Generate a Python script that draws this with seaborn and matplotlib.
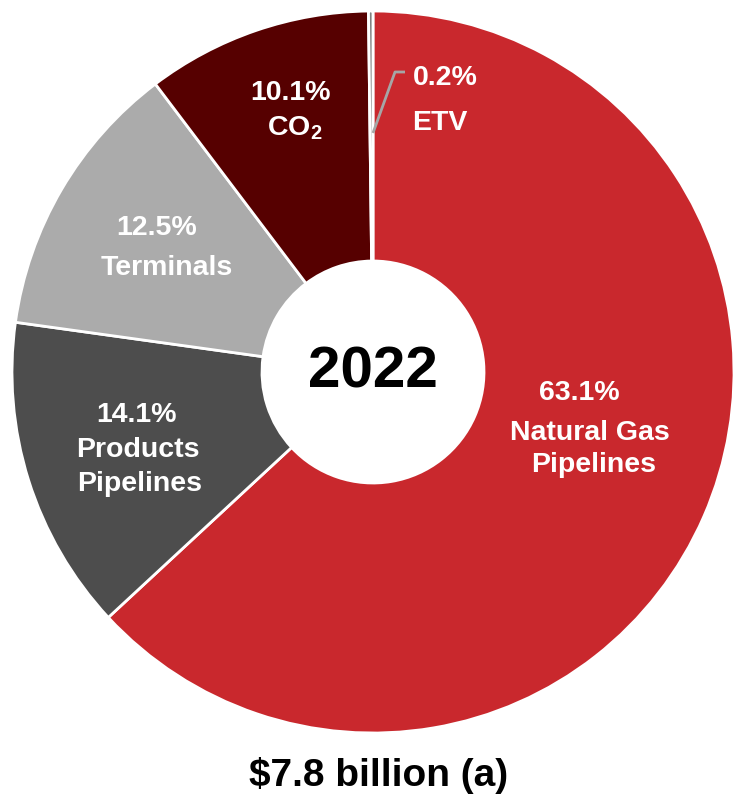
import matplotlib
matplotlib.use("Agg")
import matplotlib.pyplot as plt
import seaborn as sns

sns.set_theme(style="white")
plt.rcParams['font.family'] = ['Liberation Sans', 'DejaVu Sans']
plt.rcParams['mathtext.fontset'] = 'custom'
plt.rcParams['mathtext.rm'] = 'Liberation Sans:bold'
plt.rcParams['mathtext.it'] = 'Liberation Sans:bold'
plt.rcParams['mathtext.bf'] = 'Liberation Sans:bold'

# ---- data ----
segments = ["Natural Gas Pipelines", "Products Pipelines", "Terminals", "CO2", "ETV"]
shares = [63.1, 14.1, 12.5, 10.1, 0.2]
pct_labels = ["63.1%", "14.1%", "12.5%", "10.1%", "0.2%"]
name_labels = [["Natural Gas", "Pipelines"], ["Products", "Pipelines"], ["Terminals"],
               ["CO$_2$"], ["ETV"]]
colors = ["#C9282D", "#4D4D4D", "#ABABAB", "#560000", "#808080"]
year_label = "2022"
total_label = "$7.8 billion (a)"

# ---- layout (pixel positions of label lines) ----
pct_pos = [(579, 390), (137, 412), (157, 225), (291, 90), (445, 75)]
name_pos = [[(590, 430), (594, 462)], [(138, 447), (140, 481)], [(167, 265)],
            [(295, 125)], [(440, 120)]]

W, H = 736, 798
fig = plt.figure(figsize=(W / 100, H / 100), dpi=100)
cx, cy, R = 373, 372, 361
ax = fig.add_axes([(cx - R) / W, 1 - (cy + R) / H, 2 * R / W, 2 * R / H])
ax.pie(shares, colors=colors, startangle=90, counterclock=False, radius=1,
       wedgeprops=dict(width=1 - 111 / 361, edgecolor="white", linewidth=2))
ax.set_xlim(-1, 1)
ax.set_ylim(-1, 1)
ax.axis("off")

def p2d(px, py):
    return (px - cx) / R, (cy - py) / R

lab_fs = 20.5
for i in range(len(shares)):
    x, y = p2d(*pct_pos[i])
    ax.text(x, y, pct_labels[i], ha="center", va="center_baseline", color="white",
            fontsize=lab_fs, fontweight="bold")
    for line, pos in zip(name_labels[i], name_pos[i]):
        x, y = p2d(*pos)
        ax.text(x, y, line, ha="center", va="center_baseline", color="white",
                fontsize=lab_fs, fontweight="bold")

# ETV leader line
lx, ly = zip(p2d(373, 133), p2d(395, 72), p2d(405, 72))
ax.plot(lx, ly, color="#A6A6A6", lw=2, solid_capstyle="butt")

ax.text(0, 0, year_label, ha="center", va="center", color="black",
        fontsize=42, fontweight="bold")

fig.text(379 / W, 1 - 775 / H, total_label, ha="center", va="center",
         color="black", fontsize=28, fontweight="bold")

fig.savefig("out.png", dpi=100, facecolor="white")
